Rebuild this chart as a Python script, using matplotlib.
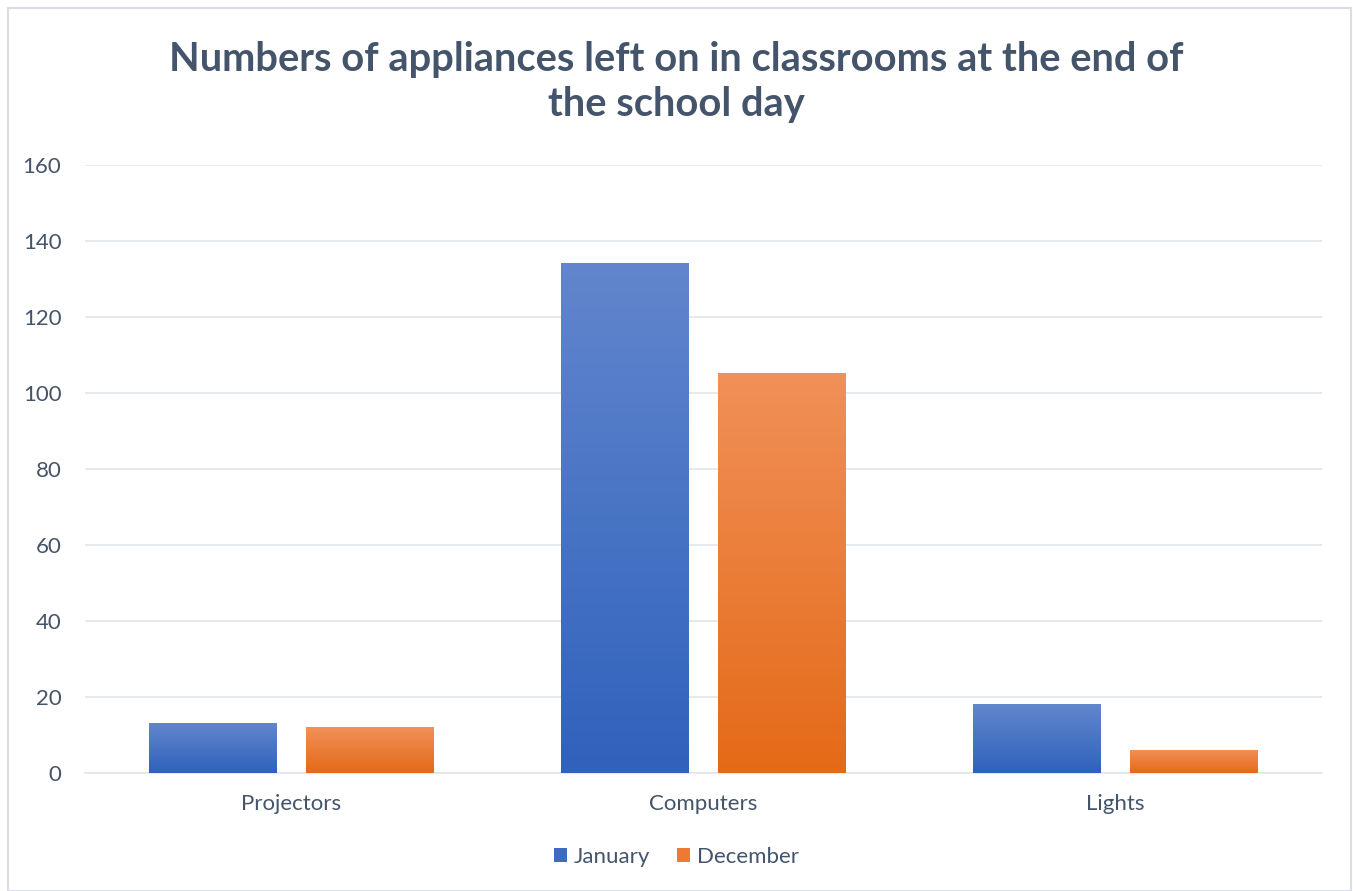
import matplotlib
matplotlib.use("Agg")
import matplotlib.pyplot as plt
import numpy as np
from matplotlib.colors import LinearSegmentedColormap
from matplotlib.patches import Rectangle, Patch

categories = ["Projectors", "Computers", "Lights"]
january = [13, 134, 18]
december = [12, 105, 6]
series_names = ["January", "December"]
yticks = [0, 20, 40, 60, 80, 100, 120, 140, 160]

plt.rcParams['font.family'] = ['Lato', 'DejaVu Sans']
text_color = "#44546A"

fig = plt.figure(figsize=(13.53, 8.91), dpi=100)
ax = fig.add_axes([0.0628, 0.1324, 0.914, 0.6824])

# border
fig.patches.append(Rectangle((8/1353, 0.0), 1343/1353, 1 - 8/891, transform=fig.transFigure,
                             fill=False, edgecolor="#D9DEE5", linewidth=1.5))

blue_cmap = LinearSegmentedColormap.from_list("b", ["#2F62BC", "#6286CD"])
orange_cmap = LinearSegmentedColormap.from_list("o", ["#E46A17", "#F19058"])

width = 0.31
offset = 0.19
x = np.arange(len(categories))
grad = np.linspace(0, 1, 256).reshape(-1, 1)

for vals, off, cmap in [(january, -offset, blue_cmap),
                        (december, offset, orange_cmap)]:
    bars = ax.bar(x + off, vals, width, color="none", zorder=3)
    for b in bars:
        x0 = b.get_x(); h = b.get_height()
        ax.imshow(grad, extent=[x0, x0 + width, 0, h], origin="lower", cmap=cmap,
                  aspect="auto", zorder=3, interpolation="bicubic")

ax.set_xlim(-0.5, 2.5)
ax.set_ylim(0, 160)
ax.set_yticks(yticks)
ax.set_xticks(x)
ax.set_xticklabels(categories)
ax.grid(axis="y", color="#E1E5EC", linewidth=1.2, zorder=0)
ax.set_axisbelow(True)
for s in ["top", "right", "left"]:
    ax.spines[s].set_visible(False)
ax.spines["bottom"].set_color("#E1E5EC")
ax.spines["bottom"].set_linewidth(1.2)
ax.tick_params(axis="both", length=0, labelsize=16, colors=text_color)
ax.tick_params(axis="y", pad=17)
ax.tick_params(axis="x", pad=15)

fig.text(0.5, 0.908, "Numbers of appliances left on in classrooms at the end of\nthe school day",
         ha="center", va="center", fontsize=28.7, fontweight="bold", color=text_color,
         linespacing=1.28)

handles = [Patch(facecolor="#3D6BC4"), Patch(facecolor="#EE7A2F")]
fig.legend(handles, series_names, loc="center", bbox_to_anchor=(0.5, 0.038), ncol=2,
           frameon=False, fontsize=16, handlelength=0.6, handleheight=0.6,
           handletextpad=0.3, columnspacing=1.2, labelcolor=text_color)

fig.savefig("out.png", dpi=100)
